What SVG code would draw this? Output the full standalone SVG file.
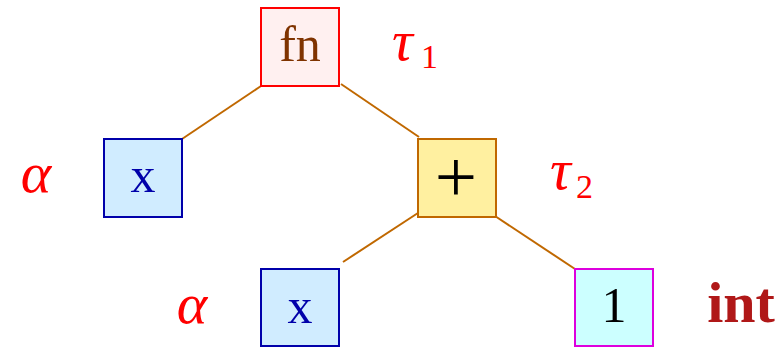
<svg xmlns="http://www.w3.org/2000/svg" width="782" height="349" viewBox="0 0 782 349">
<style>
.t{font-family:"Liberation Serif","Times New Roman",serif;font-size:50px;text-anchor:middle}
.g{font-family:"Liberation Serif","Times New Roman",serif;font-style:italic;fill:#ff0000;font-size:58px}
.s{font-family:"Liberation Serif","Times New Roman",serif;fill:#ff0000;font-size:34px}
.box{stroke-width:2}
.e{stroke:#c06800;stroke-width:2;fill:none}
</style>
<rect width="782" height="349" fill="#ffffff"/>
<g id="connectors">
<line class="e" x1="261" y1="86" x2="182" y2="139"/>
<line class="e" x1="341" y1="84" x2="419" y2="137"/>
<line class="e" x1="421" y1="211" x2="343" y2="262"/>
<line class="e" x1="495" y1="216" x2="575" y2="269"/>
</g>
<g id="fn">
<rect class="box" x="261" y="8" width="78" height="78" fill="#fff0f0" stroke="#ff0000"/>
<text class="t" x="300" y="61" fill="#7f3300">fn</text>
</g>
<g id="tau1">
<text class="g" x="392" y="60">τ</text>
<text class="s" x="421" y="68">1</text>
</g>
<g id="x1">
<rect class="box" x="104" y="139" width="78" height="78" fill="#d0ecff" stroke="#0000aa"/>
<text class="t" x="143" y="192" fill="#0000aa">x</text>
</g>
<g id="alpha1">
<text class="g" x="36" y="192" text-anchor="middle">α</text>
</g>
<g id="plus">
<rect class="box" x="418" y="139" width="78" height="78" fill="#fff0a0" stroke="#c06800"/>
<text class="t" x="456" y="202" style="font-size:75px" fill="#000000">+</text>
</g>
<g id="tau2">
<text class="g" x="550" y="189">τ</text>
<text class="s" x="576" y="198">2</text>
</g>
<g id="x2">
<rect class="box" x="261" y="269" width="78" height="77" fill="#d0ecff" stroke="#0000aa"/>
<text class="t" x="300" y="323" fill="#0000aa">x</text>
</g>
<g id="alpha2">
<text class="g" x="192" y="323" text-anchor="middle">α</text>
</g>
<g id="one">
<rect class="box" x="575" y="269" width="78" height="77" fill="#ccffff" stroke="#dd00dd"/>
<text class="t" x="614" y="322" fill="#000000">1</text>
</g>
<g id="int">
<text x="741" y="322" font-family="Liberation Serif, serif" font-weight="bold" font-size="58" fill="#b01818" text-anchor="middle">int</text>
</g>
</svg>
